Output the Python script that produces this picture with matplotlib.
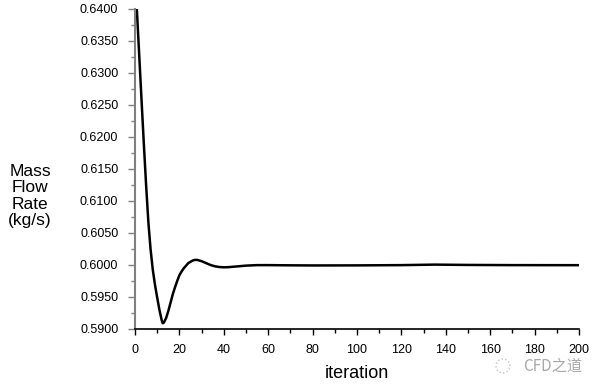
import matplotlib
matplotlib.use("Agg")
import matplotlib.pyplot as plt
from matplotlib.ticker import MultipleLocator, FormatStrFormatter
from matplotlib.patches import Ellipse

iterations = [0, 1, 2, 3, 4, 5, 6, 7, 8, 9, 10, 11, 12, 12.5, 13, 14, 15, 16, 17, 18, 19,
              20, 21, 22, 23, 24, 25, 26, 27, 28, 29, 30, 32, 34, 36, 38, 40, 42, 45,
              50, 55, 60, 70, 80, 100, 120, 135, 150, 170, 200]
mass_flow = [0.6455, 0.6388, 0.6321, 0.6254, 0.6188, 0.6125, 0.6068, 0.6025, 0.5993,
             0.5969, 0.5949, 0.5930, 0.5914, 0.5909, 0.5910, 0.5917, 0.5928, 0.5941,
             0.5954, 0.5965, 0.5975, 0.5984, 0.5990, 0.5995, 0.5999, 0.6003, 0.6005,
             0.6007, 0.6008, 0.6008, 0.6007, 0.6006, 0.6003, 0.6000, 0.5998, 0.59968,
             0.59964, 0.59966, 0.59975, 0.59990, 0.59998, 0.59998, 0.59995, 0.59993,
             0.59994, 0.59998, 0.60006, 0.60001, 0.59998, 0.59997]

plt.rcParams['font.family'] = ['Liberation Sans', 'DejaVu Sans']

fig = plt.figure(figsize=(5.95, 3.86), dpi=100)
ax = fig.add_axes([135/595, 1-329/386, (579-135)/595, (329-9)/386])

ax.plot(iterations, mass_flow, color='black', lw=1.8, clip_on=True,
        solid_joinstyle='round')

ax.set_xlim(0, 200)
ax.set_ylim(0.59, 0.64)
ax.xaxis.set_major_locator(MultipleLocator(20))
ax.xaxis.set_minor_locator(MultipleLocator(10))
ax.yaxis.set_major_locator(MultipleLocator(0.005))
ax.yaxis.set_minor_locator(MultipleLocator(0.0025))
ax.yaxis.set_major_formatter(FormatStrFormatter('%.4f'))

for s in ['top', 'right']:
    ax.spines[s].set_visible(False)
ax.spines['left'].set_color('#808080')
ax.spines['left'].set_linewidth(1.5)
ax.spines['bottom'].set_color('black')
ax.spines['bottom'].set_linewidth(1.2)

ax.tick_params(axis='y', which='major', length=5, width=1, color='#808080', pad=7, labelsize=9)
ax.tick_params(axis='y', which='minor', length=3, width=1, color='#808080')
ax.tick_params(axis='x', which='major', length=4, width=1, color='black', pad=7, labelsize=9)
ax.tick_params(axis='x', which='minor', length=3, width=1, color='black')

ax.set_xlabel('iteration', fontsize=13, labelpad=6)
fig.text(30/595, 1-196/386, 'Mass\nFlow\nRate\n(kg/s)', ha='center', va='center',
         fontsize=12.5, linespacing=1.12)

fig.patches.append(Ellipse((503/595, 1-366/386), 14/595, 14/386, fill=False,
                           edgecolor='#c0c0c0', lw=1, ls=':', transform=fig.transFigure))
fig.text(523/595, 1-366/386, 'CFD之道', ha='left', va='center', fontsize=11,
         color='#a8a8a8', family=['Noto Sans CJK SC', 'DejaVu Sans'])

fig.savefig('out.png', dpi=100)
